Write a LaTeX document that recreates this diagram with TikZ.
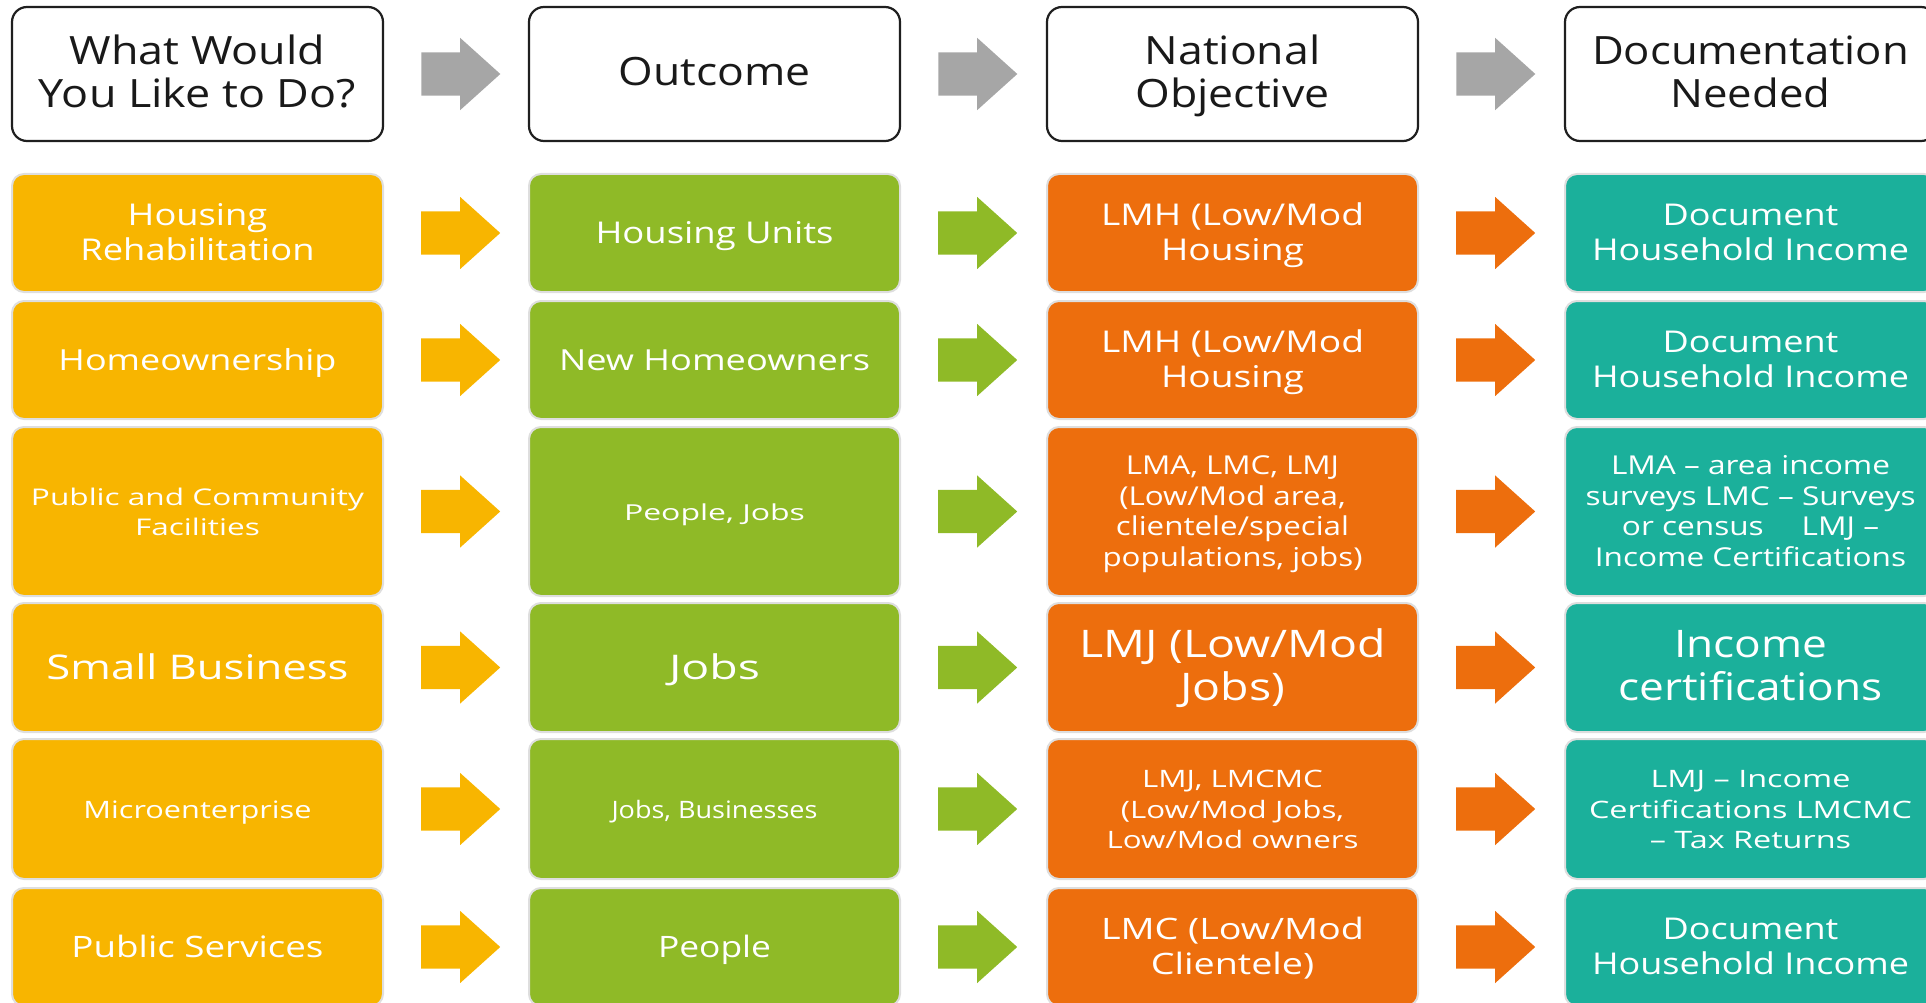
\documentclass[tikz,border=0pt]{standalone}
\usepackage{fontspec}
\setmainfont{Open Sans}
\usepackage{graphicx}
\usepackage{xcolor}
\usepackage{tikz}
\usetikzlibrary{positioning,shapes.arrows}
\definecolor{boxyellow}{HTML}{F8B500}
\definecolor{boxgreen}{HTML}{8FBA27}
\definecolor{boxorange}{HTML}{ED6E0D}
\definecolor{boxteal}{HTML}{1BB09B}
\definecolor{arrowgray}{HTML}{A6A6A6}
\newcommand{\boxtext}[4]{\fontsize{#1}{#2}\selectfont\raisebox{-3pt}[\height][\depth]{\resizebox{#3pt}{\height}{\begin{tabular}{@{}c@{}}#4\end{tabular}}}}

\begin{document}
\begin{tikzpicture}[x=1pt,y=-1pt,
    head/.style={rounded corners=15pt,minimum width=371pt,minimum height=134pt,inner sep=0pt,draw=black!88,line width=2.2pt,fill=white,text=black!90},
    cell/.style={rounded corners=12pt,minimum width=371pt,inner sep=0pt,draw=black!13,line width=2pt,text=white},
    blockarrow/.style={single arrow,shape border rotate=0,single arrow head extend=14.5pt,single arrow tip angle=84,minimum height=79pt,minimum width=0pt,inner sep=21.5pt,right=37pt of #1}]
    \clip (0,0) rectangle (1926,1003);
    % header row
    \node[head] (Do) at (197.5,74) {\boxtext{39}{43}{317}{What Would\\You Like to Do?}};
    \node[head] (Out) at (714.5,74) {\boxtext{39}{43}{192}{Outcome}};
    \node[head] (Obj) at (1232.5,74) {\boxtext{39}{43}{194}{National\\Objective}};
    \node[head] (Doc) at (1750.5,74) {\boxtext{39}{43}{317}{Documentation\\Needed}};
    \node[blockarrow=Do,fill=arrowgray] (DoOut) {};
    \node[blockarrow=Out,fill=arrowgray] (OutObj) {};
    \node[blockarrow=Obj,fill=arrowgray] (ObjDoc) {};
    % housing rehabilitation
    \node[cell,fill=boxyellow,minimum height=118pt] (Do1) at (197.5,233) {\boxtext{30}{35}{234}{Housing\\Rehabilitation}};
    \node[cell,fill=boxgreen,minimum height=118pt] (Out1) at (714.5,233) {\boxtext{30}{35}{238}{Housing Units}};
    \node[cell,fill=boxorange,minimum height=118pt] (Obj1) at (1232.5,233) {\boxtext{30}{35}{263}{LMH (Low/Mod\\Housing}};
    \node[cell,fill=boxteal,minimum height=118pt] (Doc1) at (1750.5,233) {\boxtext{30}{35}{317}{Document\\Household Income}};
    \node[blockarrow=Do1,fill=boxyellow] (DoOut1) {};
    \node[blockarrow=Out1,fill=boxgreen] (OutObj1) {};
    \node[blockarrow=Obj1,fill=boxorange] (ObjDoc1) {};
    % homeownership
    \node[cell,fill=boxyellow,minimum height=118pt] (Do2) at (197.5,360) {\boxtext{29}{35}{278}{Homeownership}};
    \node[cell,fill=boxgreen,minimum height=118pt] (Out2) at (714.5,360) {\boxtext{29}{35}{311}{New Homeowners}};
    \node[cell,fill=boxorange,minimum height=118pt] (Obj2) at (1232.5,360) {\boxtext{30}{35}{263}{LMH (Low/Mod\\Housing}};
    \node[cell,fill=boxteal,minimum height=118pt] (Doc2) at (1750.5,360) {\boxtext{30}{35}{317}{Document\\Household Income}};
    \node[blockarrow=Do2,fill=boxyellow] (DoOut2) {};
    \node[blockarrow=Out2,fill=boxgreen] (OutObj2) {};
    \node[blockarrow=Obj2,fill=boxorange] (ObjDoc2) {};
    % public and community facilities
    \node[cell,fill=boxyellow,minimum height=169pt] (Do3) at (197.5,511.5) {\boxtext{23}{29.5}{333}{Public and Community\\Facilities}};
    \node[cell,fill=boxgreen,minimum height=169pt] (Out3) at (714.5,511.5) {\boxtext{22}{29.5}{181}{People, Jobs}};
    \node[cell,fill=boxorange,minimum height=169pt] (Obj3) at (1232.5,511.5) {\boxtext{26}{30.5}{260}{LMA, LMC, LMJ\\(Low/Mod area,\\clientele/special\\populations, jobs)}};
    \node[cell,fill=boxteal,minimum height=169pt] (Doc3) at (1750.5,511.5) {\boxtext{26}{30.5}{330}{LMA – area income\\surveys LMC – Surveys\\or census\hspace{1.2em}LMJ –\\Income Certifications}};
    \node[blockarrow=Do3,fill=boxyellow] (DoOut3) {};
    \node[blockarrow=Out3,fill=boxgreen] (OutObj3) {};
    \node[blockarrow=Obj3,fill=boxorange] (ObjDoc3) {};
    % small business
    \node[cell,fill=boxyellow,minimum height=129pt] (Do4) at (197.5,667.5) {\boxtext{34}{43}{302}{Small Business}};
    \node[cell,fill=boxgreen,minimum height=129pt] (Out4) at (714.5,667.5) {\boxtext{34}{43}{91}{Jobs}};
    \node[cell,fill=boxorange,minimum height=129pt] (Obj4) at (1232.5,667.5) {\boxtext{38}{43}{307}{LMJ (Low/Mod\\Jobs)}};
    \node[cell,fill=boxteal,minimum height=129pt] (Doc4) at (1750.5,667.5) {\boxtext{38}{43}{264}{Income\\certifications}};
    \node[blockarrow=Do4,fill=boxyellow] (DoOut4) {};
    \node[blockarrow=Out4,fill=boxgreen] (OutObj4) {};
    \node[blockarrow=Obj4,fill=boxorange] (ObjDoc4) {};
    % microenterprise
    \node[cell,fill=boxyellow,minimum height=140pt] (Do5) at (197.5,809) {\boxtext{24}{30.5}{228}{Microenterprise}};
    \node[cell,fill=boxgreen,minimum height=140pt] (Out5) at (714.5,809) {\boxtext{24}{30.5}{206}{Jobs, Businesses}};
    \node[cell,fill=boxorange,minimum height=140pt] (Obj5) at (1232.5,809) {\boxtext{24}{30.5}{252}{LMJ, LMCMC\\(Low/Mod Jobs,\\Low/Mod owners}};
    \node[cell,fill=boxteal,minimum height=140pt] (Doc5) at (1750.5,809) {\boxtext{24}{30.5}{323}{LMJ – Income\\Certifications LMCMC\\– Tax Returns}};
    \node[blockarrow=Do5,fill=boxyellow] (DoOut5) {};
    \node[blockarrow=Out5,fill=boxgreen] (OutObj5) {};
    \node[blockarrow=Obj5,fill=boxorange] (ObjDoc5) {};
    % public services
    \node[cell,fill=boxyellow,minimum height=118pt] (Do6) at (197.5,947) {\boxtext{29.5}{35}{252}{Public Services}};
    \node[cell,fill=boxgreen,minimum height=118pt] (Out6) at (714.5,947) {\boxtext{29.5}{35}{113}{People}};
    \node[cell,fill=boxorange,minimum height=118pt] (Obj6) at (1232.5,947) {\boxtext{29.5}{35}{263}{LMC (Low/Mod\\Clientele)}};
    \node[cell,fill=boxteal,minimum height=118pt] (Doc6) at (1750.5,947) {\boxtext{30}{35}{317}{Document\\Household Income}};
    \node[blockarrow=Do6,fill=boxyellow] (DoOut6) {};
    \node[blockarrow=Out6,fill=boxgreen] (OutObj6) {};
    \node[blockarrow=Obj6,fill=boxorange] (ObjDoc6) {};
  \end{tikzpicture}
\end{document}
